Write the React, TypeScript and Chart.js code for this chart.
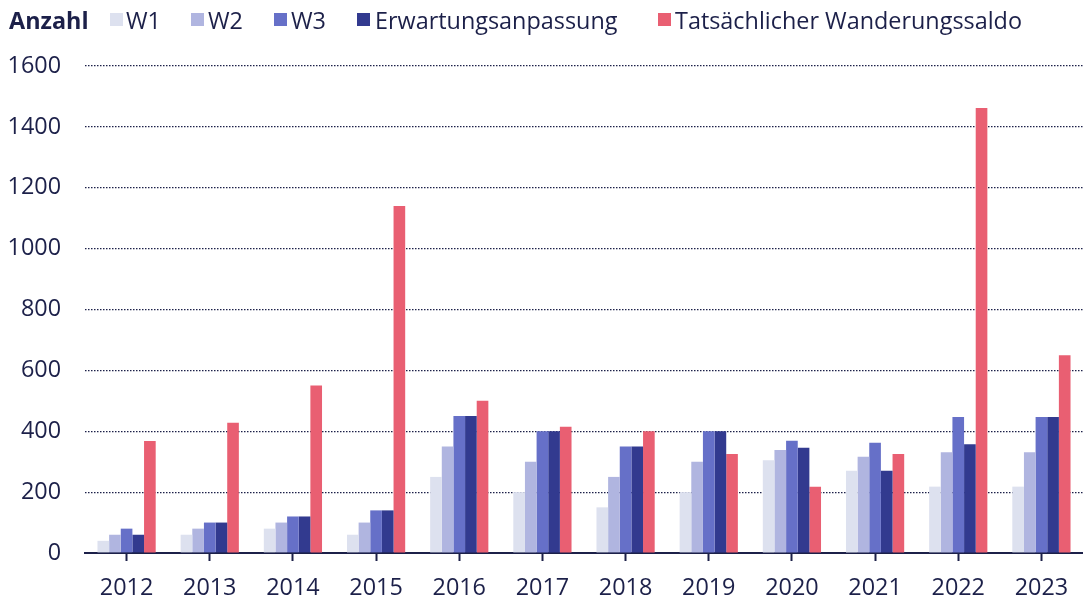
import React, { useEffect, useRef } from "react";
import { Chart, registerables } from "chart.js";

Chart.register(...registerables);

const categories = ["2012", "2013", "2014", "2015", "2016", "2017", "2018", "2019", "2020", "2021", "2022", "2023"];
const w1 = [40, 60, 80, 60, 250, 200, 150, 200, 305, 270, 218, 218];
const w2 = [60, 80, 100, 100, 350, 300, 250, 300, 338, 316, 331, 331];
const w3 = [80, 100, 120, 140, 450, 400, 350, 400, 369, 362, 447, 447];
const erwartung = [60, 100, 120, 140, 450, 400, 350, 400, 346, 270, 357, 447];
const tatsaechlich = [368, 428, 550, 1140, 500, 415, 400, 325, 218, 325, 1462, 650];
const yTicks = [0, 200, 400, 600, 800, 1000, 1200, 1400, 1600];

const seriesNames = ["W1", "W2", "W3", "Erwartungsanpassung", "Tatsächlicher Wanderungssaldo"];
const seriesColors = ["#dde1ef", "#b0b5e0", "#6670c8", "#323a8f", "#e95f72"];
const seriesData = [w1, w2, w3, erwartung, tatsaechlich];

const TEXT = "#1c2049";
const FONT = "'Open Sans', 'Noto Sans', sans-serif";
const FS = 23.4;

const legendBoxX = [110, 191, 274, 357, 658];
const legendTextX = [126, 208, 291, 375, 675];

export default function App() {
  const ref = useRef<HTMLCanvasElement | null>(null);

  useEffect(() => {
    if (!ref.current) return;
    const chart = new Chart(ref.current, {
      type: "bar",
      data: {
        labels: categories,
        datasets: seriesNames.map((name, i) => ({
          label: name,
          data: seriesData[i],
          backgroundColor: seriesColors[i],
          borderWidth: 0,
          barPercentage: 1,
          categoryPercentage: 0.7,
        })),
      },
      options: {
        responsive: false,
        animation: false,
        layout: { padding: { top: 66, left: 0, right: 0, bottom: 0 } },
        plugins: { legend: { display: false }, tooltip: { enabled: false } },
        scales: {
          x: {
            afterFit: (scale: any) => {
              scale.height = 46;
            },
            grid: {
              display: true,
              drawOnChartArea: false,
              drawTicks: true,
              tickLength: 8,
              tickWidth: 2,
              tickColor: TEXT,
              offset: false,
            },
            border: { display: true, color: TEXT, width: 2 },
            ticks: { color: TEXT, font: { family: FONT, size: FS }, padding: 13 },
          },
          y: {
            min: 0,
            max: 1600,
            afterBuildTicks: (scale: any) => {
              scale.ticks = yTicks.map((v) => ({ value: v }));
            },
            afterFit: (scale: any) => {
              scale.width = 85;
            },
            grid: {
              color: TEXT,
              lineWidth: 1.2,
              drawTicks: false,
            },
            border: { display: false, dash: [1.5, 1.5] },
            ticks: {
              color: TEXT,
              font: { family: FONT, size: FS },
              padding: 24,
              callback: (v: any) => String(v),
            },
          },
        },
      },
    });
    return () => chart.destroy();
  }, []);

  return (
    <div style={{ position: "fixed", left: 0, top: 0, width: 1083, height: 599, background: "#fff", fontFamily: FONT }}>
      <canvas ref={ref} width={1083} height={599} style={{ position: "absolute", left: 0, top: 0 }} />
      <span style={{ position: "absolute", left: 9, top: 4, fontSize: FS, fontWeight: 700, color: TEXT, lineHeight: "32px" }}>Anzahl</span>
      {seriesNames.map((name, i) => (
        <React.Fragment key={name}>
          <span style={{ position: "absolute", left: legendBoxX[i], top: 13, width: 13, height: 13, background: seriesColors[i] }} />
          <span style={{ position: "absolute", left: legendTextX[i], top: 4, fontSize: FS, color: TEXT, lineHeight: "32px", whiteSpace: "nowrap" }}>{name}</span>
        </React.Fragment>
      ))}
    </div>
  );
}
